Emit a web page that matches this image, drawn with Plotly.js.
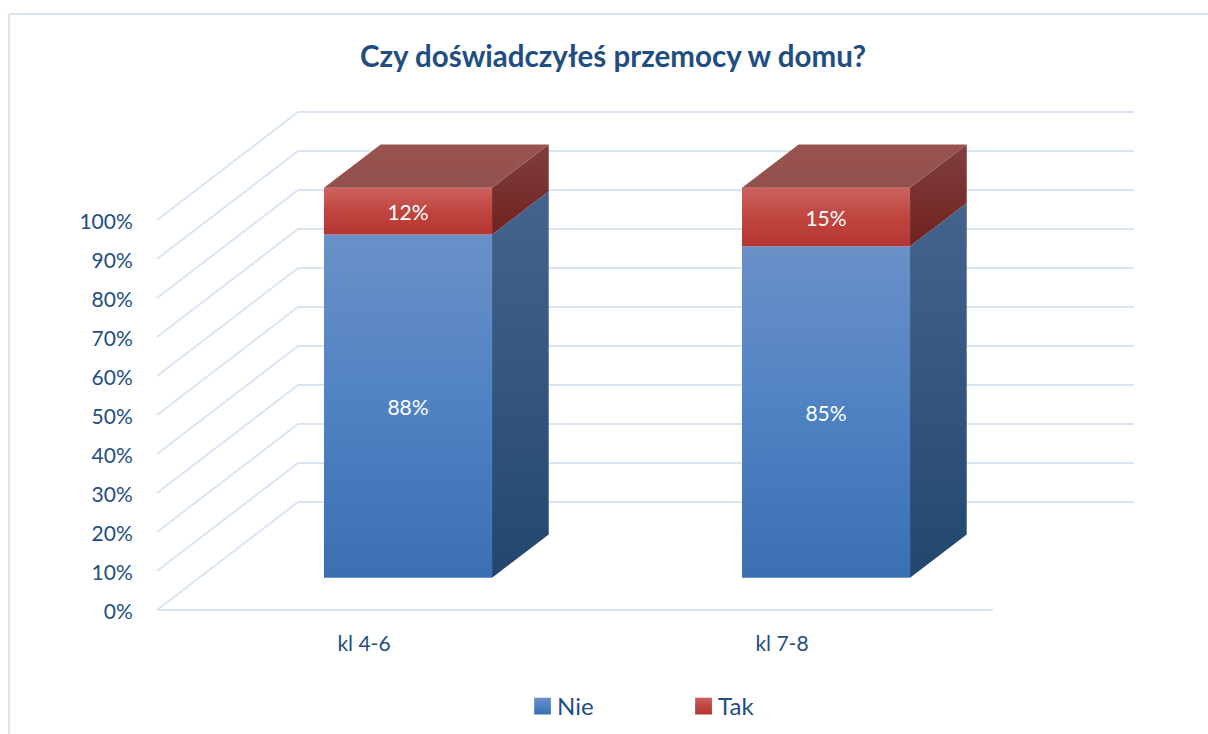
<!DOCTYPE html>
<html><head><meta charset="utf-8">
<script src="https://cdn.plot.ly/plotly-3.0.1.min.js"></script>
<style>html,body{margin:0;padding:0;background:#fff}</style></head>
<body><div id="chart" style="width:1208px;height:734px"></div>
<script>
const categories = ["kl 4-6", "kl 7-8"];
const nie = [88, 85];
const tak = [12, 15];
const percentTicks = [0,10,20,30,40,50,60,70,80,90,100];
const tickLabels = percentTicks.map(v => v + "%");
const titleText = "Czy doświadczyłeś przemocy w domu?";

const W = 1208, H = 734;
const NAVY = "#1f4e82", GRID = "#dae5f4", FONT = "Lato, 'Open Sans', sans-serif";
// chart scale: px per category and per percent
const pxCat = 418, pxPct = 3.9;
const plotL = 150, plotR = 1142, plotT = 106, plotB = 616, zeroX = 157, zeroY = 610;
// oblique depth of the floor, in data units
const depthX = 141 / pxCat, depthY = 108 / pxPct;
const barHalf = 0.201, z0 = 0.298, z1 = 0.7;
const project = (c, v, z) => [c + z * depthX, v + z * depthY];

const xRange = [-0.5 - (zeroX - plotL) / pxCat, -0.5 + (plotR - zeroX) / pxCat];
const yRange = [-(plotB - zeroY) / pxPct, (zeroY - plotT) / pxPct];

function poly(points, gradient, name) {
  return {
    type: "scatter", mode: "lines", fill: "toself", name,
    x: points.map(p => p[0]).concat(points[0][0]),
    y: points.map(p => p[1]).concat(points[0][1]),
    line: {width: 0}, fillgradient: gradient, showlegend: false, hoverinfo: "skip"
  };
}
const vGrad = (top, bottom) => ({type: "vertical", colorscale: [[0, bottom], [1, top]]});

const traces = [];
// front faces as real bars
traces.push({
  type: "bar", name: "Nie", x: categories.map((_, i) => project(i, 0, z0)[0]), y: nie,
  base: categories.map((_, i) => project(i, 0, z0)[1]), width: 2 * barHalf,
  marker: {color: "#4f81bd", line: {width: 0}}, text: nie.map(v => v + "%"),
  textposition: "inside", insidetextanchor: "middle", textangle: 0,
  textfont: {color: "#ffffff", size: 21, family: FONT}, hoverinfo: "skip"
});
traces.push({
  type: "bar", name: "Tak", x: categories.map((_, i) => project(i, 0, z0)[0]), y: tak,
  base: categories.map((_, i) => project(i, nie[i], z0)[1]), width: 2 * barHalf,
  marker: {color: "#c0504d", line: {width: 0}}, text: tak.map(v => v + "%"),
  textposition: "inside", insidetextanchor: "middle", textangle: 0,
  textfont: {color: "#ffffff", size: 21, family: FONT}, hoverinfo: "skip"
});
// side and top faces, projected from the same values
categories.forEach((_, i) => {
  const R = i + barHalf, L = i - barHalf, n = nie[i], t = n + tak[i];
  traces.push(poly([project(R,0,z0), project(R,0,z1), project(R,n,z1), project(R,n,z0)],
    vGrad("#44648e", "#23466f"), "side Nie"));
  traces.push(poly([project(R,n,z0), project(R,n,z1), project(R,t,z1), project(R,t,z0)],
    vGrad("#803f3e", "#70221f"), "side Tak"));
  traces.push(poly([project(L,t,z0), project(R,t,z0), project(R,t,z1), project(L,t,z1)],
    vGrad("#98534f", "#94504d"), "top Tak"));
});

// walls: floor front edge, left wall diagonals, back wall lines
const shapes = [];
const seg = (a, b) => shapes.push({type: "line", layer: "below", xref: "x", yref: "y",
  x0: a[0], y0: a[1], x1: b[0], y1: b[1], line: {color: GRID, width: 2}});
percentTicks.forEach(v => {
  seg(project(-0.5, v, 0), project(-0.5, v, 1));
  seg(project(-0.5, v, 1), project(1.5, v, 1));
});
seg(project(-0.5, 0, 0), project(1.5, 0, 0));

// outer chart frame
const plotW = plotR - plotL, plotH = plotB - plotT;
const px = x => (x - plotL) / plotW, py = y => (plotB - y) / plotH;
[[9, 14, 1208, 14], [9, 14, 9, 734]].forEach(f => shapes.push({type: "line", layer: "below",
  xref: "paper", yref: "paper", x0: px(f[0]), y0: py(f[1]), x1: px(f[2]), y1: py(f[3]),
  line: {color: GRID, width: 2}}));

const layout = {
  width: W, height: H, paper_bgcolor: "#fff", plot_bgcolor: "rgba(0,0,0,0)",
  margin: {l: plotL, r: W - plotR, t: plotT, b: H - plotB, pad: 0},
  font: {family: FONT, color: NAVY},
  title: {text: "<b>" + titleText + "</b>", font: {size: 29.5, color: NAVY, family: FONT},
    x: 613 / W, xanchor: "center", y: 1 - 57 / H, yanchor: "middle"},
  barmode: "overlay",
  xaxis: {range: xRange, tickmode: "array", tickvals: categories.map((_, i) => i), ticktext: categories,
    showgrid: false, zeroline: false, showline: false, ticks: "outside", ticklen: 9, ticklabelshift: -2,
    tickcolor: "rgba(0,0,0,0)", tickfont: {size: 21, color: NAVY, family: FONT}},
  yaxis: {range: yRange, tickmode: "array", tickvals: percentTicks, ticktext: tickLabels,
    showgrid: false, zeroline: false, showline: false, ticks: "outside", ticklen: 12, ticklabelshift: 2,
    tickcolor: "rgba(0,0,0,0)", tickfont: {size: 21, color: NAVY, family: FONT}},
  shapes,
  legend: {orientation: "h", x: 0.370, xanchor: "left", yref: "container", y: 1 - 684 / H, yanchor: "top",
    entrywidth: 116, entrywidthmode: "pixels",
    font: {size: 24, color: NAVY, family: FONT}, traceorder: "normal", itemclick: false, itemdoubleclick: false}
};

Plotly.newPlot("chart", traces, layout, {displayModeBar: false, staticPlot: true}).then(gd => {
  const svg = gd.querySelector(".main-svg");
  const defs = svg.querySelector("defs");
  const NS = "http://www.w3.org/2000/svg";
  const mk = (id, stops) => {
    const g = document.createElementNS(NS, "linearGradient");
    g.setAttribute("id", id); g.setAttribute("x1", "0"); g.setAttribute("y1", "0");
    g.setAttribute("x2", "0"); g.setAttribute("y2", "1");
    stops.forEach(s => { const e = document.createElementNS(NS, "stop");
      e.setAttribute("offset", s[0]); e.setAttribute("stop-color", s[1]); g.appendChild(e); });
    defs.appendChild(g);
  };
  mk("gNie", [[0, "#6b90c8"], [0.5, "#4f82c3"], [1, "#3a6fb2"]]);
  mk("gTak", [[0, "#cc6260"], [0.5, "#c0453f"], [1, "#b43632"]]);
  const ids = ["gNie", "gTak"];
  gd.querySelectorAll(".barlayer .trace.bars").forEach((t, i) =>
    t.querySelectorAll("path").forEach(p => { p.style.fill = "url(#" + ids[i] + ")"; }));
  gd.querySelectorAll(".legend .traces").forEach((t, i) =>
    t.querySelectorAll(".legendpoints path").forEach(p => {
      p.style.fill = "url(#" + ids[i] + ")";
      p.setAttribute("transform", (p.getAttribute("transform") || "") + " translate(5.5,0) scale(1.4)");
    }));
});
</script></body></html>
